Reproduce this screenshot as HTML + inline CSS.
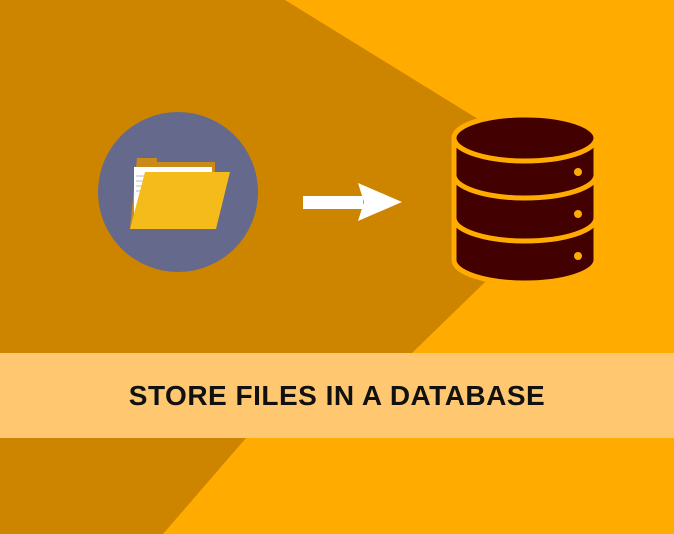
<!DOCTYPE html>
<html><head><style>
html,body{margin:0;padding:0;}
body{width:674px;height:534px;overflow:hidden;background:#FFAB00;position:relative;font-family:"Liberation Sans",sans-serif;}
svg{position:absolute;left:0;top:0;}
.band{position:absolute;left:0;top:353px;width:674px;height:85px;background:#FFC870;text-align:center;line-height:85px;font-weight:bold;font-size:28px;color:#111;letter-spacing:0.5px;}
</style></head><body>
<svg width="674" height="534" viewBox="0 0 674 534">
<polygon points="0,0 285,0 585,185 412,353 0,353" fill="#CD8500"/>
<polygon points="0,438 246,438 163,534 0,534" fill="#CD8500"/>
<circle cx="178" cy="192" r="80" fill="#65698C"/>
<path d="M137,158 h20 v4 h58 v66 h-85 z" fill="#C98A1A"/>
<rect x="134" y="167" width="78" height="60" fill="#fff"/>
<g stroke="#bbb" stroke-width="1"><line x1="136" y1="176" x2="146" y2="176"/><line x1="136" y1="181" x2="146" y2="181"/><line x1="136" y1="186" x2="146" y2="186"/><line x1="136" y1="191" x2="146" y2="191"/></g>
<polygon points="145,172 230,172 216,229 130,229" fill="#F4BB1A"/>
<rect x="303" y="196" width="60" height="13" fill="#fff"/>
<polygon points="358,183 402,202 358,221 364,202" fill="#fff"/>
<g stroke="#FFAB00" stroke-width="5" fill="#420000">
<path d="M454,138 L454,260 A71,23 0 0 0 596,260 L596,138 Z"/>
<ellipse cx="525" cy="138" rx="71" ry="23"/>
<path d="M454,175 A71,23 0 0 0 596,175" fill="none"/>
<path d="M454,218 A71,23 0 0 0 596,218" fill="none"/>
</g>
<g fill="#FFAB00"><circle cx="578" cy="172" r="4"/><circle cx="578" cy="214" r="4"/><circle cx="578" cy="256" r="4"/></g>
</svg>
<div class="band">STORE FILES IN A DATABASE</div>
</body></html>
